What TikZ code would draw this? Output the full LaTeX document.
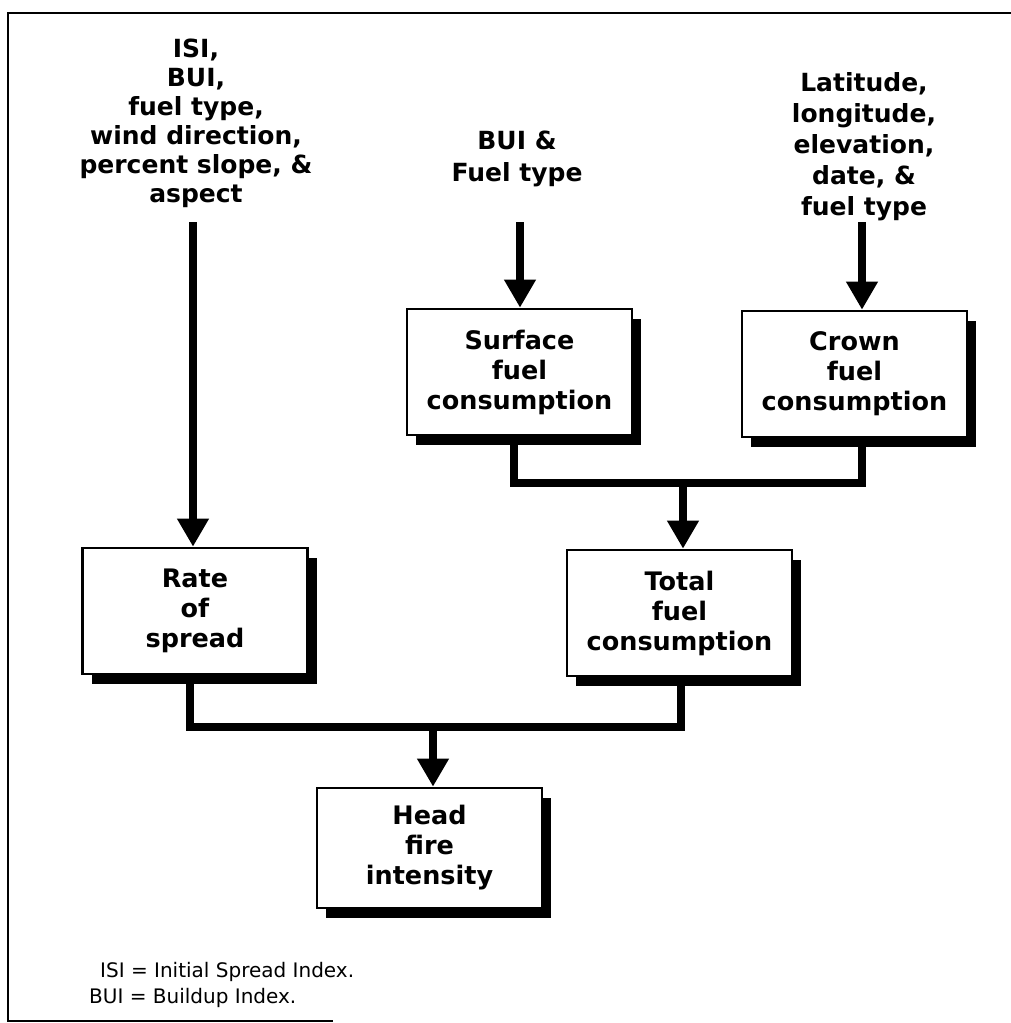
\documentclass[tikz,border=0pt]{standalone}
\usepackage{fontspec}
\setmainfont{DejaVu Sans}
\usetikzlibrary{arrows.meta,shadows,calc}

\tikzset{
  stepbox/.style={draw=black, line width=2.6pt, fill=white, inner sep=0pt,
    minimum width=225pt, minimum height=126pt, align=center,
    font=\fontsize{25.5}{30}\selectfont\bfseries,
    drop shadow={shadow xshift=9pt, shadow yshift=-10pt, fill=black, opacity=1}},
  inputlabel/.style={align=center, inner sep=0pt, anchor=north,
    font=\fontsize{25}{31}\selectfont\bfseries},
  flow/.style={line width=8pt, line join=miter},
  flowarrow/.style={flow, -{Triangle[width=30pt,length=28pt]}},
  legend/.style={anchor=base west, inner sep=0pt, font=\fontsize{20}{24}\selectfont},
}

\begin{document}
\begin{tikzpicture}[x=1pt,y=-1pt]
  \useasboundingbox (0,0) rectangle (1011,1023);

  % frame
  \draw[line width=2.5pt] (1011,13) -- (8,13) -- (8,1021) -- (333,1021);

  % inputs
  \node[inputlabel, font=\fontsize{25}{29}\selectfont\bfseries] (in1) at (196,39)
    {ISI,\\BUI,\\fuel type,\\wind direction,\\percent slope, \&\\aspect};
  \node[inputlabel, font=\fontsize{25}{32}\selectfont\bfseries] (in2) at (517,131)
    {BUI \&\\Fuel type};
  \node[inputlabel] (in3) at (864,72)
    {Latitude,\\longitude,\\elevation,\\date, \&\\fuel type};

  % process boxes
  \node[stepbox] (surface) at (519.5,372) {Surface\\fuel\\consumption};
  \node[stepbox] (crown)   at (854.5,374) {Crown\\fuel\\consumption};
  \node[stepbox] (rate)    at (195,611)   {Rate\\of\\spread};
  \node[stepbox] (total)   at (679.5,613) {Total\\fuel\\consumption};
  \node[stepbox, minimum height=120pt] (head) at (429.5,848) {Head\\fire\\intensity};

  % input arrows
  \coordinate (a1) at (193,222);
  \coordinate (a2) at (520,222);
  \coordinate (a3) at (862,222);
  \draw[flowarrow] (a1) -- (a1 |- rate.north);
  \draw[flowarrow] (a2) -- (a2 |- surface.north);
  \draw[flowarrow] (a3) -- (a3 |- crown.north);

  % fuel consumption join
  \coordinate (j1) at (683,483);
  \draw[flow] ([xshift=-6pt]surface.south) |- (j1) -| ([xshift=7pt]crown.south);
  \draw[flowarrow] ([yshift=-4pt]j1) -- (j1 |- total.north);

  % intensity join
  \coordinate (j2) at (433,727);
  \draw[flow] ([xshift=-5pt]rate.south) |- (j2) -| ([xshift=1pt]total.south);
  \draw[flowarrow] ([yshift=-4pt]j2) -- (j2 |- head.north);

  % legend
  \node[legend] (l1) at (100,977) {ISI = Initial Spread Index.};
  \node[legend] (l2) at (89,1003) {BUI = Buildup Index.};
\end{tikzpicture}
\end{document}
